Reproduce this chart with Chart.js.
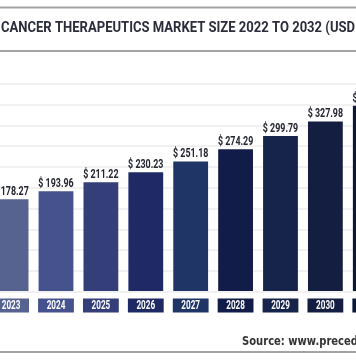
<!DOCTYPE html>
<html><head><meta charset="utf-8">
<script src="https://cdn.jsdelivr.net/npm/chart.js@4.4.1/dist/chart.umd.min.js"></script>
<style>html,body{margin:0;padding:0;background:#fff;overflow:hidden}
#wrap{position:relative;width:356px;height:364px}</style>
</head><body><div id="wrap"><canvas id="c" width="356" height="364"></canvas></div>
<script>
const years = [2022, 2023, 2024, 2025, 2026, 2027, 2028, 2029, 2030, 2031, 2032];
const marketSize = [163.86, 178.27, 193.96, 211.22, 230.23, 251.18, 274.29, 299.79, 327.98, 358.12, 390.81];
const yearLabels = years.map(String);
const valueLabels = marketSize.map(v => '$ ' + v.toFixed(2));
const titleText = 'CANCER THERAPEUTICS MARKET SIZE 2022 TO 2032 (USD';
const sourceText = 'Source: www.preced';
const barColors = ['#5d6a98', '#56628f', '#46528e', '#343f7a', '#1f2a64', '#1e3566', '#111c48', '#16234a', '#141e40', '#0d1838', '#0b1533'];

const decor = {
  id: 'decor',
  afterDatasetsDraw(chart) {
    const ctx = chart.ctx;
    const meta = chart.getDatasetMeta(0);
    const yBase = chart.scales.y.getPixelForValue(0);
    meta.data.forEach((el, i) => {
      const w = el.width;
      ctx.save();
      ctx.fillStyle = '#23252f';
      ctx.font = 'bold 12px Roboto';
      ctx.textAlign = 'center';
      ctx.textBaseline = 'alphabetic';
      ctx.translate(el.x, el.y - 4);
      ctx.scale(0.74, 1);
      ctx.fillText(valueLabels[i], 0, 0);
      ctx.restore();
      ctx.save();
      ctx.fillStyle = barColors[i];
      ctx.fillRect(el.x - w / 2 - 0.5, yBase + 6.5, w + 1, 14);
      ctx.fillStyle = '#ffffff';
      ctx.font = 'bold 12.5px Roboto';
      ctx.textAlign = 'center';
      ctx.textBaseline = 'middle';
      ctx.translate(el.x, yBase + 14);
      ctx.scale(0.65, 1);
      ctx.fillText(yearLabels[i], 0, 0);
      ctx.restore();
    });
  },
  afterDraw(chart) {
    const ctx = chart.ctx;
    const W = chart.width;
    ctx.save();
    ctx.strokeStyle = '#a3a3a3';
    ctx.lineWidth = 2;
    [7.5, 51, 352].forEach(y => {
      ctx.beginPath(); ctx.moveTo(0, y); ctx.lineTo(W, y); ctx.stroke();
    });
    ctx.fillStyle = '#2b2d3c';
    ctx.font = 'bold 15.5px Roboto';
    ctx.textBaseline = 'middle';
    ctx.textAlign = 'left';
    const tw = ctx.measureText(titleText).width;
    const sx = 354 / tw;
    ctx.translate(1, 28);
    ctx.scale(sx, 1);
    ctx.fillText(titleText, 0, 0);
    ctx.restore();
    ctx.save();
    ctx.fillStyle = '#333333';
    ctx.font = 'bold 12px "DejaVu Sans"';
    ctx.textBaseline = 'middle';
    ctx.textAlign = 'left';
    const sw = ctx.measureText(sourceText).width;
    ctx.translate(242, 342);
    ctx.scale(Math.min(1, 116 / sw), 1);
    ctx.fillText(sourceText, 0, 0);
    ctx.restore();
  }
};

new Chart(document.getElementById('c'), {
  type: 'bar',
  data: {
    datasets: [{
      data: years.map((y, i) => ({ x: y, y: marketSize[i] })),
      backgroundColor: barColors,
      borderWidth: 0,
      barPercentage: 0.775,
      categoryPercentage: 1
    }]
  },
  options: {
    responsive: false,
    animation: false,
    devicePixelRatio: 1,
    layout: { padding: { top: 84, bottom: 72, left: 0, right: 0 } },
    plugins: { legend: { display: false }, tooltip: { enabled: false }, title: { display: false } },
    scales: {
      x: { type: 'linear', min: 2022.753, max: 2030.682, display: false, offset: false },
      y: {
        min: 0, max: 400,
        ticks: { display: false, stepSize: 40 },
        grid: { color: '#f1f1f1', lineWidth: 2, drawTicks: false },
        border: { display: false }
      }
    }
  },
  plugins: [decor]
});
</script>
</body></html>
